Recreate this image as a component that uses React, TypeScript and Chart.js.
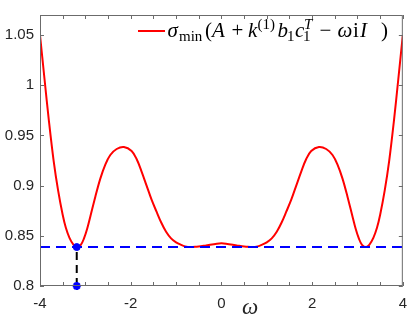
import React, { useEffect, useRef } from "react";
import { Chart, registerables } from "chart.js";

Chart.register(...registerables);

const omega = [
  -4.0, -3.9, -3.8, -3.7, -3.6, -3.5, -3.43, -3.35, -3.26, -3.19, -3.1, -3.03, -2.96, -2.886, -2.78, -2.67, -2.56, -2.45, -2.31, -2.15,
  -1.98, -1.87, -1.76, -1.65, -1.54, -1.43, -1.33, -1.22, -1.11, -1.0, -0.89, -0.8, -0.68, -0.55, -0.39, -0.25, -0.1, 0,
  0.1, 0.25, 0.39, 0.55, 0.68, 0.8, 0.89, 1.0, 1.11, 1.22, 1.33, 1.43, 1.54, 1.65, 1.76, 1.87, 1.98,
  2.15, 2.31, 2.45, 2.56, 2.67, 2.78, 2.886, 2.96, 3.03, 3.1, 3.19, 3.26, 3.35, 3.43, 3.5, 3.6, 3.7, 3.8, 3.9, 4.0,
];
const sigma = [
  1.05, 1.006, 0.963, 0.925, 0.895, 0.871, 0.858, 0.848, 0.841, 0.8388, 0.841, 0.8474, 0.857, 0.87, 0.889, 0.907, 0.921, 0.9305, 0.9365, 0.9385,
  0.9345, 0.9265, 0.914, 0.9, 0.886, 0.874, 0.8635, 0.854, 0.8474, 0.8435, 0.841, 0.8395, 0.8388, 0.8392, 0.840, 0.8412, 0.8422, 0.8425,
  0.8422, 0.8412, 0.840, 0.8392, 0.8388, 0.8395, 0.841, 0.8435, 0.8474, 0.854, 0.8635, 0.874, 0.886, 0.9, 0.914, 0.9265, 0.9345,
  0.9385, 0.9365, 0.9305, 0.921, 0.907, 0.889, 0.87, 0.857, 0.8474, 0.841, 0.8388, 0.841, 0.848, 0.858, 0.871, 0.895, 0.925, 0.963, 1.006, 1.05,
];
const minOmega = -3.19;
const minSigma = 0.8388;
const xTickValues = [-4, -3.5, -3, -2.5, -2, -1.5, -1, -0.5, 0, 0.5, 1, 1.5, 2, 2.5, 3, 3.5, 4];
const xTickLabels = ["-4", "", "", "", "-2", "", "", "", "0", "", "", "", "2", "", "", "", "4"];
const yTickValues = [0.8, 0.85, 0.9, 0.95, 1.0, 1.05];
const yTickLabels = ["0.8", "0.85", "0.9", "0.95", "1", "1.05"];
const xMin = -4, xMax = 4, yMin = 0.8, yMax = 1.07;
const xAxisLabel = "ω";

const SERIF = '"Liberation Serif", "DejaVu Serif", serif';

const legendPieces = [
  { t: "σ", style: "italic", size: 21, x: 167.5, dy: 0 },
  { t: "min", style: "", size: 15, x: 179, dy: 3.5 },
  { t: "(", style: "", size: 21, x: 205, dy: 0 },
  { t: "A", style: "italic", size: 21, x: 212, dy: 0 },
  { t: "+", style: "", size: 21, x: 231.5, dy: 0 },
  { t: "k", style: "italic", size: 21, x: 248, dy: 0 },
  { t: "(1)", style: "", size: 15, x: 257.5, dy: -8.5 },
  { t: "b", style: "italic", size: 21, x: 277.5, dy: 0 },
  { t: "1", style: "", size: 15, x: 287, dy: 3.5 },
  { t: "c", style: "italic", size: 21, x: 295, dy: 0 },
  { t: "T", style: "italic", size: 15, x: 304, dy: -8.5 },
  { t: "1", style: "", size: 15, x: 303, dy: 3.5 },
  { t: "−", style: "", size: 21, x: 319.5, dy: 0 },
  { t: "ω", style: "italic", size: 21, x: 337.5, dy: 0 },
  { t: "i", style: "", size: 21, x: 353, dy: 0 },
  { t: "I", style: "italic", size: 21, x: 360, dy: 0 },
  { t: ")", style: "", size: 21, x: 381, dy: 0 },
];

const boxPlugin = {
  id: "boxTicks",
  afterDraw(chart: any) {
    const { ctx, chartArea } = chart;
    const { left, right, top, bottom } = chartArea;
    const xs = chart.scales.x, ys = chart.scales.y;
    ctx.save();
    ctx.strokeStyle = "#6b6b6b";
    ctx.lineWidth = 1;
    ctx.strokeRect(left + 0.5, top + 0.5, right - left - 1, bottom - top - 1);
    ctx.beginPath();
    const tl = 4;
    xTickValues.forEach((v) => {
      const px = Math.round(xs.getPixelForValue(v)) + 0.5;
      ctx.moveTo(px, bottom); ctx.lineTo(px, bottom - tl);
      ctx.moveTo(px, top); ctx.lineTo(px, top + tl);
    });
    yTickValues.forEach((v) => {
      const py = Math.round(ys.getPixelForValue(v)) + 0.5;
      ctx.moveTo(left, py); ctx.lineTo(left + tl, py);
      ctx.moveTo(right, py); ctx.lineTo(right - tl, py);
    });
    ctx.stroke();

    // x axis label
    ctx.fillStyle = "#262626";
    ctx.font = `italic 23px ${SERIF}`;
    ctx.textAlign = "center";
    ctx.textBaseline = "alphabetic";
    ctx.fillText(xAxisLabel, 250, 314);

    // legend
    ctx.strokeStyle = "#ff0000";
    ctx.lineWidth = 2;
    ctx.beginPath();
    ctx.moveTo(138, 31);
    ctx.lineTo(165, 31);
    ctx.stroke();

    ctx.fillStyle = "#000";
    ctx.textAlign = "left";
    legendPieces.forEach((p) => {
      ctx.font = `${p.style} ${p.size}px ${SERIF}`.trim();
      ctx.fillText(p.t, p.x, 37 + p.dy);
    });
    ctx.restore();
  },
};

export default function App() {
  const ref = useRef<HTMLCanvasElement | null>(null);
  useEffect(() => {
    if (!ref.current) return;
    const chart = new Chart(ref.current, {
      type: "line",
      data: {
        datasets: [
          {
            label: "min point",
            data: [{ x: minOmega, y: minSigma }],
            showLine: false,
            pointStyle: "circle",
            pointRadius: 3.5,
            pointBackgroundColor: "#0000ff",
            pointBorderColor: "#0000ff",
            clip: false as any,
          },
          {
            label: "axis point",
            data: [{ x: minOmega, y: yMin }],
            showLine: false,
            pointStyle: "star",
            pointRadius: 4,
            pointBorderWidth: 2.5,
            pointBackgroundColor: "#0000ff",
            pointBorderColor: "#0000ff",
            clip: false as any,
          },
          {
            label: "vertical",
            data: [{ x: minOmega, y: yMin }, { x: minOmega, y: minSigma }],
            borderColor: "#000000",
            borderWidth: 2,
            borderDash: [8, 5],
            pointRadius: 0,
          },
          {
            label: "level",
            data: [{ x: xMin, y: minSigma }, { x: xMax, y: minSigma }],
            borderColor: "#0000ff",
            borderWidth: 2,
            borderDash: [10, 6],
            pointRadius: 0,
          },
          {
            label: "sigma",
            data: omega.map((x, i) => ({ x, y: sigma[i] })),
            borderColor: "#ff0000",
            borderWidth: 2,
            pointRadius: 0,
            tension: 0.35,
          },
        ],
      },
      options: {
        animation: false,
        responsive: false,
        events: [],
        layout: { padding: { left: 0, right: 7, top: 5, bottom: 0 } },
        plugins: { legend: { display: false }, tooltip: { enabled: false } },
        scales: {
          x: {
            type: "linear",
            min: xMin,
            max: xMax,
            grid: { display: false, drawTicks: false },
            border: { display: false },
            afterBuildTicks: (scale: any) => {
              scale.ticks = xTickValues.map((v) => ({ value: v }));
            },
            afterFit: (scale: any) => {
              scale.height = 32;
            },
            ticks: {
              autoSkip: false,
              maxRotation: 0,
              padding: 9,
              color: "#262626",
              font: { family: '"Liberation Sans", Arial, sans-serif', size: 15 },
              callback: (v: any) => {
                const i = xTickValues.indexOf(Number(v));
                return i >= 0 ? xTickLabels[i] : "";
              },
            },
          },
          y: {
            type: "linear",
            min: yMin,
            max: yMax,
            grid: { display: false, drawTicks: false },
            border: { display: false },
            afterBuildTicks: (scale: any) => {
              scale.ticks = yTickValues.map((v) => ({ value: v }));
            },
            afterFit: (scale: any) => {
              scale.width = 40;
            },
            ticks: {
              autoSkip: false,
              padding: 6,
              color: "#262626",
              font: { family: '"Liberation Sans", Arial, sans-serif', size: 15 },
              callback: (v: any) => {
                const i = yTickValues.findIndex((t) => Math.abs(t - Number(v)) < 1e-9);
                return i >= 0 ? yTickLabels[i] : "";
              },
            },
          },
        },
      },
      plugins: [boxPlugin],
    } as any);
    return () => chart.destroy();
  }, []);
  return (
    <div style={{ position: "fixed", left: 0, top: 0, width: 416, height: 318, background: "#fff" }}>
      <canvas ref={ref} width={416} height={318} style={{ display: "block" }} />
    </div>
  );
}
